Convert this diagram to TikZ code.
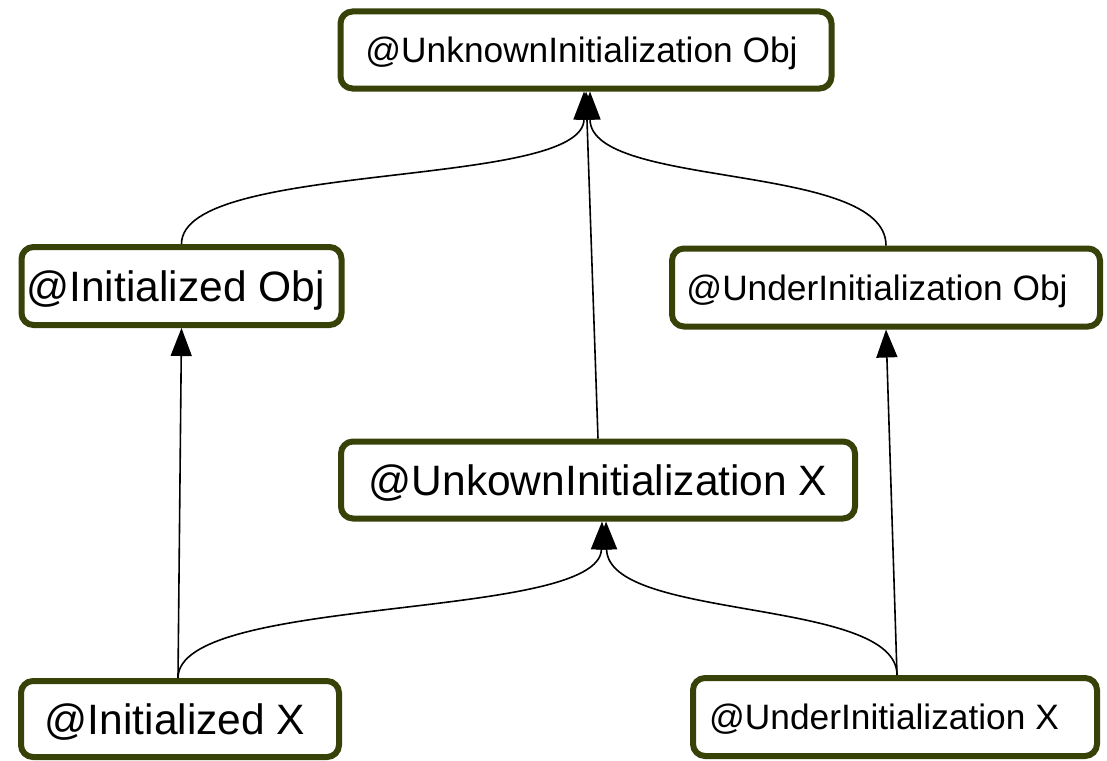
\documentclass[tikz,border=0pt]{standalone}
\usepackage{fontspec}
\setmainfont{Liberation Sans}
\usetikzlibrary{arrows.meta,calc}
\definecolor{boxborder}{RGB}{55,66,8}
\tikzset{
  box/.style={draw=boxborder, line width=6pt, rounded corners=12pt, fill=white,
    inner sep=0pt, minimum height=78pt, text depth=0pt},
  smalltxt/.style={font=\fontsize{35.3pt}{40pt}\selectfont, text height=25.3pt},
  bigtxt/.style={font=\fontsize{42.5pt}{48pt}\selectfont, text height=30.5pt},
  edge/.style={draw=black, line width=1.6pt,
    -{Triangle[width=21pt,length=28pt]}},
}
\begin{document}
\begin{tikzpicture}[x=1pt,y=-1pt]
\useasboundingbox (0,0) rectangle (1107,760);
\fill[white] (0,0) rectangle (1107,760);

\node[box, smalltxt, minimum width=491pt, minimum height=77pt] (top) at (586,50)
  {\hspace*{-9pt}@UnknownInitialization Obj};
\node[box, bigtxt, minimum width=320pt] (io) at (181.5,286)
  {\hspace*{-12pt}@Initialized Obj};
\node[box, smalltxt, minimum width=428pt] (uo) at (886,287.5)
  {\hspace*{-18pt}@UnderInitialization Obj};
\node[box, bigtxt, minimum width=514pt, minimum height=77pt] (kx) at (598,480)
  {@UnkownInitialization X};
\node[box, bigtxt, minimum width=318pt, minimum height=76pt] (ix) at (180,719)
  {\hspace*{-10pt}@Initialized X};
\node[box, smalltxt, minimum width=404pt] (ux) at (895,717)
  {\hspace*{-22pt}@UnderInitialization X};

% edges into top box
\draw[edge] (io.north) .. controls ($(io.north)+(0,-84)$) and ($(top.south)+(-2,98)$) .. ($(top.south)+(-2,0)$);
\draw[edge] (uo.north) .. controls ($(uo.north)+(0,-84)$) and ($(top.south)+(4,98)$) .. ($(top.south)+(4,0)$);
\draw[edge] (kx.north) -- ($(top.south)+(0,0)$);

% edges into middle and side boxes
\draw[edge] ($(ix.north)+(-2,0)$) -- ($(io.south)+(0,0)$);
\draw[edge] ($(ix.north)+(-2,0)$) .. controls ($(ix.north)+(-2,-84)$) and ($(kx.south)+(2,100)$) .. ($(kx.south)+(4,0)$);
\draw[edge] ($(ux.north)+(2,0)$) .. controls ($(ux.north)+(2,-78)$) and ($(kx.south)+(10,100)$) .. ($(kx.south)+(8,0)$);
\draw[edge] ($(ux.north)+(2,0)$) -- ($(uo.south)+(0,0)$);
\end{tikzpicture}
\end{document}
